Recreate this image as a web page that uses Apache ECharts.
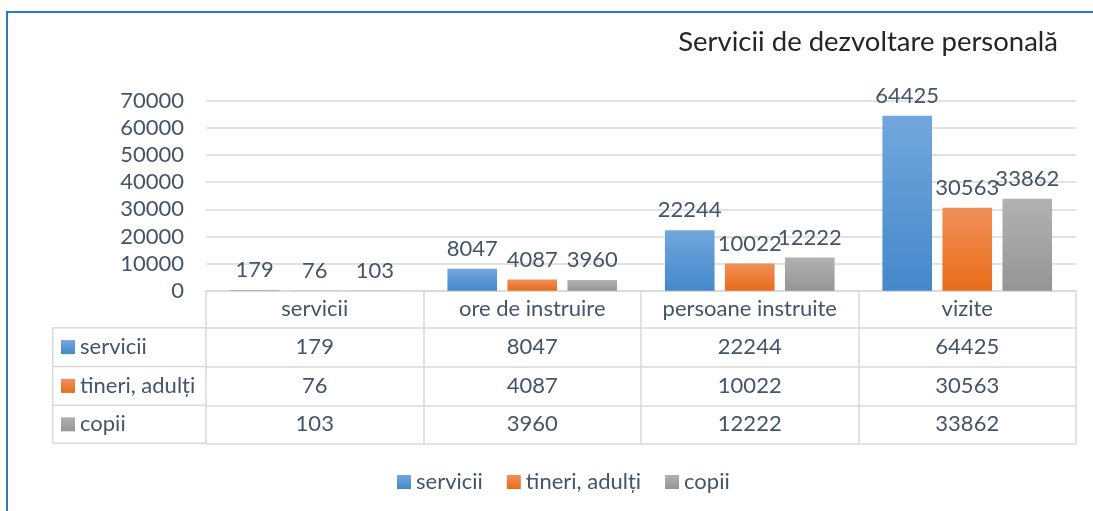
<!DOCTYPE html>
<html>
<head>
<meta charset="utf-8">
<script src="https://cdn.jsdelivr.net/npm/echarts@6/dist/echarts.min.js"></script>
<style>
  html, body { margin: 0; padding: 0; background: #fff; }
  #chart { width: 1093px; height: 511px; }
</style>
</head>
<body>
<div id="chart"></div>
<script>
// chart data
const categories = ['servicii', 'ore de instruire', 'persoane instruite', 'vizite'];
const seriesNames = ['servicii', 'tineri, adulți', 'copii'];
const serviciiValues = [179, 8047, 22244, 64425];
const tineriValues = [76, 4087, 10022, 30563];
const copiiValues = [103, 3960, 12222, 33862];
const yMax = 70000;
const yStep = 10000;

const seriesValues = [serviciiValues, tineriValues, copiiValues];

// look
const FONT = 'Lato';
const FS = 22;
const TEXT = '#44546a';
const LINE = '#d9d9d9';
const gradients = [
    ['#72a7dd', '#4488cb'],
    ['#f1905a', '#e86c18'],
    ['#b2b2b2', '#959595']
];
const fill = (c) => new echarts.graphic.LinearGradient(0, 0, 0, 1, [
    { offset: 0, color: c[0] },
    { offset: 1, color: c[1] }
]);

// table layout (data table under the plot)
const GRID_LEFT = 206;
const GRID_RIGHT = 1076;
const GRID_TOP = 100.7;
const AXIS_Y = 290.7;
const rowLines = [0, 37, 75.8, 114.6, 152.6]; // offsets below the axis
const TABLE_LEFT = 52.7;

const chart = echarts.init(document.getElementById('chart'));

const xAxes = [];
for (let r = 0; r < 4; r++) {
    const h = rowLines[r + 1] - rowLines[r];
    xAxes.push({
        type: 'category',
        data: categories,
        position: 'bottom',
        offset: rowLines[r],
        axisLine: { show: true, lineStyle: { color: LINE, width: 1.5 } },
        axisTick: { show: true, length: h, interval: 0, lineStyle: { color: LINE, width: 1.5 } },
        axisLabel: {
            margin: h / 2,
            verticalAlign: 'middle',
            interval: 0,
            color: TEXT,
            fontFamily: FONT,
            fontSize: FS,
            formatter: r === 0 ? '{value}' : (v, idx) => String(seriesValues[r - 1][idx])
        }
    });
}
// bottom border of the table
xAxes.push({
    type: 'category',
    data: categories,
    position: 'bottom',
    offset: rowLines[4],
    axisLine: { show: true, lineStyle: { color: LINE, width: 1.5 } },
    axisTick: { show: false },
    axisLabel: { show: false }
});

// frame + row headers of the table
const graphics = [
    {
        type: 'rect',
        silent: true,
        shape: { x: 7, y: 12, width: 1300, height: 700 },
        style: { fill: 'none', stroke: '#2a7ac4', lineWidth: 2 }
    },
    {
        type: 'line',
        silent: true,
        shape: { x1: TABLE_LEFT, y1: AXIS_Y + rowLines[1], x2: TABLE_LEFT, y2: AXIS_Y + rowLines[4] },
        style: { stroke: LINE, lineWidth: 1.5 }
    }
];
for (let r = 1; r <= 4; r++) {
    graphics.push({
        type: 'line',
        silent: true,
        shape: { x1: TABLE_LEFT, y1: AXIS_Y + rowLines[r], x2: GRID_LEFT, y2: AXIS_Y + rowLines[r] },
        style: { stroke: LINE, lineWidth: 1.5 }
    });
}
seriesNames.forEach((name, i) => {
    const cy = AXIS_Y + (rowLines[i + 1] + rowLines[i + 2]) / 2;
    graphics.push({
        type: 'rect',
        silent: true,
        shape: { x: 61, y: cy - 7, width: 14, height: 14 },
        style: { fill: fill(gradients[i]) }
    });
    graphics.push({
        type: 'text',
        silent: true,
        x: 80,
        y: cy,
        style: {
            text: name,
            fill: TEXT,
            font: FS + 'px ' + FONT,
            verticalAlign: 'middle'
        }
    });
});

const option = {
    animation: false,
    title: {
        text: 'Servicii de dezvoltare personală',
        right: 30,
        top: 23,
        textStyle: { fontFamily: FONT, fontSize: 27.5, fontWeight: 'normal', color: '#262626' }
    },
    legend: {
        data: seriesNames,
        left: 392,
        top: 466,
        icon: 'rect',
        itemWidth: 14,
        itemHeight: 14,
        itemGap: 24,
        textStyle: { fontFamily: FONT, fontSize: FS, color: TEXT }
    },
    grid: {
        left: GRID_LEFT,
        right: 1093 - GRID_RIGHT,
        top: GRID_TOP,
        bottom: 511 - AXIS_Y,
        containLabel: false
    },
    xAxis: xAxes,
    yAxis: {
        type: 'value',
        min: 0,
        max: yMax,
        interval: yStep,
        axisLine: { show: false },
        axisTick: { show: false },
        splitLine: { lineStyle: { color: LINE, width: 1.5 } },
        axisLabel: {
            margin: 22,
            color: TEXT,
            fontFamily: FONT,
            fontSize: FS,
            formatter: (v) => String(v)
        }
    },
    graphic: graphics,
    series: seriesNames.map((name, i) => ({
        name: name,
        type: 'bar',
        xAxisIndex: 0,
        data: seriesValues[i],
        barGap: '21%',
        barCategoryGap: '22%',
        itemStyle: { color: fill(gradients[i]) },
        label: {
            show: true,
            position: 'top',
            distance: 9,
            color: TEXT,
            fontFamily: FONT,
            fontSize: FS
        }
    }))
};

chart.setOption(option);
</script>
</body>
</html>
